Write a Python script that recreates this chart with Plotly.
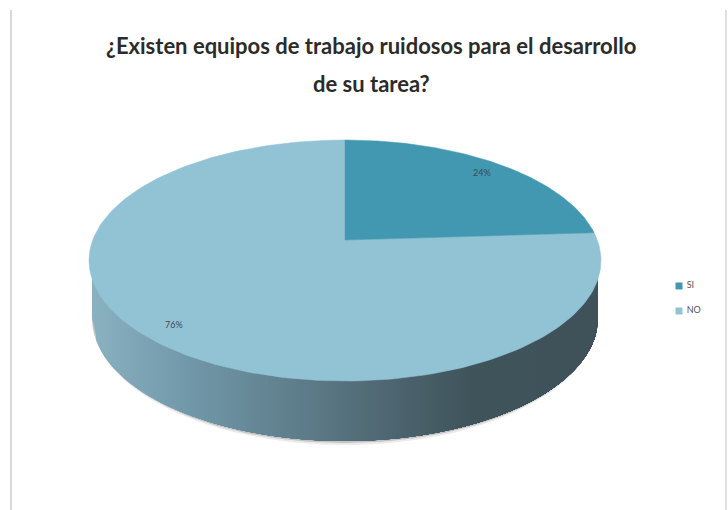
import numpy as np
import plotly.graph_objects as go

# Survey answers
categories = ["SI", "NO"]
shares = [24, 76]
colors = ["#4398b1", "#92c3d5"]
title_lines = ["¿Existen equipos de trabajo ruidosos para el desarrollo", "de su tarea?"]

# Projection of the tilted disc, in page pixels
CX, CY, RX, RY = 345, 260.5, 256, 120.5
TILT = 0.17
BOTTOM_CY, BOTTOM_RX, BOTTOM_RY = 318, 253, 123
LABEL_RADIUS = 0.88

# Key placement, in page pixels
KEY_X = 679
KEY_Y = [286, 311]


def project(radius, angle):
    """Map a point of the flat pie (clockwise from 12 o'clock) onto the tilted disc."""
    u = radius * np.sin(angle)
    v = radius * np.cos(angle)
    k = 1 + TILT * v
    return CX + RX * u * np.sqrt(1 - TILT ** 2) / k, CY - RY * (v + TILT) / k


def lerp_color(x):
    stops_x = [89, 200, 345, 470, 601]
    stops = np.array([[0x8a, 0xb2, 0xc1], [0x6f, 0x95, 0xa5], [0x56, 0x71, 0x7d],
                      [0x3f, 0x53, 0x5b], [0x3f, 0x52, 0x5a]])
    return "rgb({:.0f},{:.0f},{:.0f})".format(*[np.interp(x, stops_x, stops[:, i]) for i in range(3)])


fig = go.Figure()

# Soft edge under the rim
edge_t = np.linspace(0, np.pi, 120)
for grow, alpha in [(4, 0.10), (2, 0.22)]:
    fig.add_trace(go.Scatter(
        x=CX + BOTTOM_RX * np.cos(edge_t),
        y=BOTTOM_CY + (BOTTOM_RY + grow) * np.sin(edge_t),
        mode="lines", fill="toself", fillcolor=f"rgba(60,60,60,{alpha})",
        line=dict(width=0), showlegend=False, hoverinfo="skip"))

# Shaded rim: each band runs to the right end and is overpainted by the next,
# which leaves no seams between colours
RIGHT = CX + BOTTOM_RX
for x0 in np.arange(CX - BOTTOM_RX, RIGHT, 4.0):
    xs = np.linspace(x0, RIGHT, 80)
    top = CY + RY * np.sqrt(np.clip(1 - ((xs - CX) / RX) ** 2, 0, 1)) - 3
    low = BOTTOM_CY + BOTTOM_RY * np.sqrt(np.clip(1 - ((xs - CX) / BOTTOM_RX) ** 2, 0, 1))
    fig.add_trace(go.Scatter(
        x=np.r_[xs, xs[::-1]], y=np.r_[top, low[::-1]],
        mode="lines", fill="toself", fillcolor=lerp_color(x0 + 2), line=dict(width=0),
        showlegend=False, hoverinfo="skip"))

# Top face: one wedge per answer
total = sum(shares)
start = 0.0
wedges = []
for name, share, color in zip(categories, shares, colors):
    sweep = share / total * 2 * np.pi
    wedges.append((name, share, color, start, sweep))
    start += sweep

for name, share, color, a0, sweep in reversed(wedges):
    angles = np.linspace(a0, a0 + sweep, 200)
    px, py = project(1.0, angles)
    ax, ay = project(0.0, 0.0)
    fig.add_trace(go.Scatter(
        x=np.r_[ax, px, ax], y=np.r_[ay, py, ay],
        mode="lines", fill="toself", fillcolor=color, line=dict(color=color, width=0.5),
        showlegend=False, hoverinfo="skip"))

# Colour key beside the pie
for name, color, y in zip(categories, colors, KEY_Y):
    fig.add_trace(go.Scatter(
        x=[KEY_X], y=[y], mode="markers+text", name=name, text=[" " + name],
        textposition="middle right", textfont=dict(family="Lato", size=9, color="#555555"),
        marker=dict(symbol="square", size=7, color=color),
        showlegend=False, hoverinfo="skip", cliponaxis=False))

# Percentage labels
annotations = []
for name, share, color, a0, sweep in wedges:
    lx, ly = project(LABEL_RADIUS, a0 + sweep / 2)
    annotations.append(dict(x=float(lx), y=float(ly), text=f"{share}%", showarrow=False,
                            font=dict(family="Lato", size=9, color="#3c4a50")))

# Title, two widely spaced lines
for text, y in zip(title_lines, (45, 83)):
    annotations.append(dict(x=371, y=y, text=text, showarrow=False,
                            font=dict(family="Lato", size=22, color="#2b2b2b", weight=700)))

fig.update_layout(
    width=728, height=510, margin=dict(l=0, r=0, t=0, b=0),
    paper_bgcolor="white", plot_bgcolor="white", showlegend=False,
    xaxis=dict(range=[0, 728], visible=False, fixedrange=True),
    yaxis=dict(range=[510, 0], visible=False, fixedrange=True),
    annotations=annotations,
    shapes=[
        dict(type="line", xref="x", yref="y", x0=11, x1=11, y0=10, y1=510,
             line=dict(color="#d9d9d9", width=2)),
        dict(type="line", xref="x", yref="y", x0=726, x1=726, y0=10, y1=510,
             line=dict(color="#e0e0e0", width=2)),
    ],
)

fig.write_html("out.html")
